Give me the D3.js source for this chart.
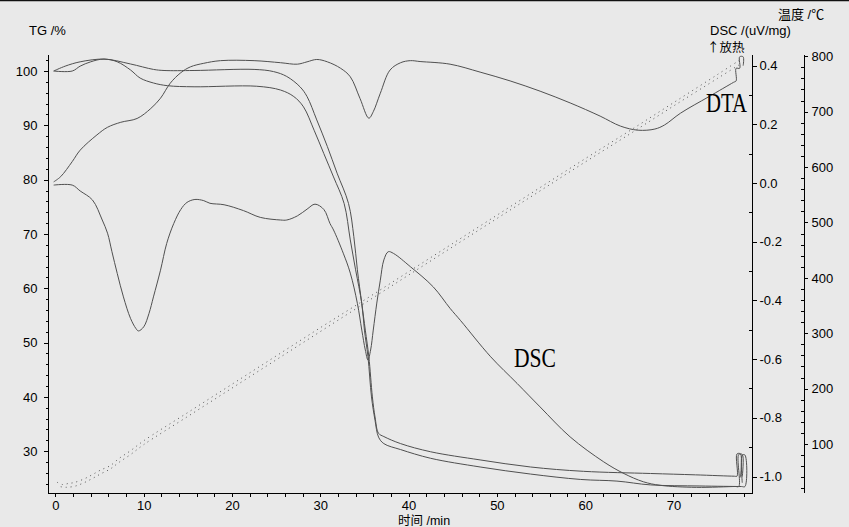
<!DOCTYPE html>
<html><head><meta charset="utf-8">
<script src="https://cdn.jsdelivr.net/npm/d3@7"></script>
<style>html,body{margin:0;padding:0;background:#e9e9e9;overflow:hidden}</style>
</head><body><svg id="c" width="849" height="527"></svg>
<script>
// ---- tick labels ----
const timeTicks = [0, 10, 20, 30, 40, 50, 60, 70];
const tgTicks = [30, 40, 50, 60, 70, 80, 90, 100];
const dscTicks = [-1.0, -0.8, -0.6, -0.4, -0.2, 0.0, 0.2, 0.4];
const dscMinorTicks = [-0.9, -0.7, -0.5, -0.3, -0.1, 0.1, 0.3];
const tempTicks = [100, 200, 300, 400, 500, 600, 700, 800];

// ---- series: [time /min, value] ----
// TG run 1 (%), plateau ~100 %
const tgA = [[-0.2,100],[1.9,100],[2.8,100.9],[4.0,101.7],[5.5,102.2],[8.5,101.3],[11.1,100.3],[12.3,100.1],[15.7,100.1],[22.5,100.3],[24.7,99.9],[26.2,99.0],[27.7,97.1],[28.5,95.3],[29.6,91.0],[30.8,86.1],[31.9,81.2],[33.2,75.6],[33.8,69.5],[34.2,63.4],[34.7,57.2],[35.1,52.3],[35.5,47.4],[35.9,40.0],[36.2,36.3],[36.6,33.3],[37.2,32.7],[39.1,31.4],[42.5,29.9],[48.1,28.4],[53.8,27.1],[59.8,26.3],[67.4,25.9],[72.5,25.65],[76.9,25.4],[77.2,25.4],[77.2,29.5],[77.6,29.5],[77.6,25.2]];
// TG run 2 (%), plateau ~97 %
const tgB = [[-0.2,100],[1.1,100.9],[2.8,101.7],[5.5,102.2],[7.0,101.7],[8.5,100.2],[9.6,98.7],[11.1,97.8],[12.7,97.3],[15.7,97.1],[22.8,97.2],[25.5,96.5],[27.0,95.3],[28.1,93.4],[29.3,89.1],[30.4,84.8],[31.5,80.5],[32.7,75.6],[33.4,68.9],[34.0,63.4],[34.7,57.2],[35.0,52.3],[35.4,47.4],[35.8,40.0],[36.2,35.7],[36.6,32.6],[37.2,31.4],[39.1,30.3],[42.5,28.7],[48.1,27.1],[53.8,25.8],[59.5,24.8],[63.6,24.5],[67.4,23.8],[73.0,23.6],[77.7,23.5],[78.1,23.5],[78.1,29.3],[77.8,29.3],[77.8,24.2]];
// DSC (uV/mg)
const dsc = [[-0.2,-0.007],[1.9,-0.007],[2.8,-0.027],[4.2,-0.058],[5.3,-0.126],[5.9,-0.171],[6.4,-0.234],[7.0,-0.308],[7.7,-0.388],[8.5,-0.461],[9.1,-0.495],[9.4,-0.504],[10.0,-0.490],[10.6,-0.444],[11.1,-0.388],[11.9,-0.297],[12.6,-0.206],[13.4,-0.138],[14.2,-0.090],[14.9,-0.066],[15.8,-0.056],[16.8,-0.060],[17.5,-0.069],[19.1,-0.074],[21.3,-0.094],[23.2,-0.117],[25.5,-0.126],[26.2,-0.126],[27.4,-0.112],[28.5,-0.089],[29.4,-0.072],[30.4,-0.090],[31.1,-0.138],[31.5,-0.160],[32.6,-0.239],[33.4,-0.307],[34.2,-0.410],[34.7,-0.501],[35.1,-0.569],[35.4,-0.603],[35.7,-0.569],[36.0,-0.501],[36.4,-0.409],[36.8,-0.331],[37.2,-0.262],[37.7,-0.234],[38.3,-0.240],[40.2,-0.285],[42.8,-0.354],[44.7,-0.427],[45.9,-0.469],[49.3,-0.592],[52.3,-0.683],[54.9,-0.763],[58.3,-0.865],[62.1,-0.950],[64.4,-0.990],[66.6,-1.018],[68.5,-1.030],[72.6,-1.037],[77.0,-1.034],[77.4,-1.034],[77.4,-0.925],[77.8,-0.925],[77.8,-1.0]];
// DTA (uV/mg scale)
const dta = [[-0.2,0.004],[0.6,0.022],[1.9,0.073],[2.8,0.112],[4.7,0.164],[5.9,0.190],[7.4,0.207],[9.25,0.220],[10.8,0.254],[11.9,0.289],[13.0,0.340],[14.2,0.376],[15.3,0.396],[16.8,0.408],[18.7,0.417],[22.5,0.417],[25.5,0.410],[27.4,0.405],[28.5,0.413],[29.6,0.421],[30.8,0.413],[32.3,0.391],[33.4,0.362],[34.5,0.288],[35.5,0.221],[36.0,0.243],[36.8,0.306],[37.9,0.385],[39.1,0.410],[40.2,0.417],[41.3,0.414],[44.7,0.405],[48.1,0.378],[51.5,0.348],[54.9,0.313],[58.3,0.273],[61.7,0.228],[64.0,0.194],[66.0,0.180],[67.9,0.184],[69.0,0.198],[70.8,0.238],[74.0,0.294],[76.8,0.343],[77.1,0.348],[77.1,0.391],[77.5,0.391],[77.5,0.43],[77.9,0.43],[77.9,0.40]];
// Temperature (°C), two runs
const temp1 = [[0.2,31],[0.8,27],[1.5,29],[2.1,30.5],[3.2,36.8],[4.2,45],[5.1,53],[6.2,61],[7.2,74],[8.5,88],[10,106],[15,157],[20,208],[25,259],[30,310],[35,360],[40,411],[45,462],[50,513],[55,564],[60,615],[65,665],[70,716],[75,767],[77.6,794]];
const temp2 = [[0.6,23],[1.2,22],[2.2,24],[3.2,30],[4.2,38],[5.1,46],[6.2,55],[7.2,67],[8.5,81],[10,99],[15,150],[20,201],[25,252],[30,303],[35,354],[40,405],[45,456],[50,507],[55,558],[60,609],[65,659],[70,710],[75,760],[77.4,784]];

const svg = d3.select("#c");
const FONT = "'Liberation Sans', Arial, sans-serif";
const CJK = "'Liberation Sans', 'Noto Sans CJK SC', sans-serif";

svg.append("rect").attr("width", 849).attr("height", 527).attr("fill", "#e9e9e9");
svg.append("line").attr("x1", 0).attr("x2", 849).attr("y1", 0.5).attr("y2", 0.5).attr("stroke", "#111").attr("stroke-width", 1.5);

const x = d3.scaleLinear().domain([-0.9, 78.9]).range([47.5, 752]);
const yTG = d3.scaleLinear().domain([22.4, 103.1]).range([492.5, 54.2]);
const yDSC = d3.scaleLinear().domain([-1.0545, 0.439]).range([492.5, 54.2]);
const yT = d3.scaleLinear().domain([12.6, 803.6]).range([492.5, 54.2]);

function styleAxis(g) {
  g.attr("font-size", 13).attr("font-family", FONT);
  g.selectAll("path,line").attr("stroke", "#000").attr("shape-rendering", "crispEdges");
  g.selectAll("text").attr("fill", "#000");
}

// Left TG axis
const tgMinor = [];
for (let v = 24; v <= 102; v += 2) if (v % 10 !== 0) tgMinor.push(v);
svg.append("g").attr("transform", "translate(47.5,0)")
  .call(d3.axisLeft(yTG).tickValues(tgMinor).tickSize(2).tickSizeOuter(0).tickFormat(""))
  .call(styleAxis);
svg.append("g").attr("transform", "translate(47.5,0)")
  .call(d3.axisLeft(yTG).tickValues(tgTicks).tickSize(4).tickSizeOuter(0).tickPadding(6))
  .call(styleAxis);

// Bottom time axis
const timeMinor = [];
for (let v = 2; v <= 78; v += 2) if (v % 10 !== 0) timeMinor.push(v);
svg.append("g").attr("transform", "translate(0,492.5)")
  .call(d3.axisBottom(x).tickValues(timeMinor).tickSize(4).tickSizeOuter(0).tickFormat(""))
  .call(styleAxis);
svg.append("g").attr("transform", "translate(0,492.5)")
  .call(d3.axisBottom(x).tickValues(timeTicks).tickSize(4).tickSizeOuter(0).tickPadding(4))
  .call(styleAxis);

// DSC axis (right of plot)
svg.append("g").attr("transform", "translate(751.5,0)")
  .call(d3.axisLeft(yDSC).tickValues(dscMinorTicks).tickSize(3).tickSizeOuter(0).tickFormat(""))
  .call(styleAxis);
svg.append("g").attr("transform", "translate(751.5,0)")
  .call(d3.axisRight(yDSC).tickValues(dscTicks).tickSize(5).tickSizeOuter(0).tickPadding(3)
    .tickFormat(v => v.toFixed(1)))
  .call(styleAxis);

// Temperature axis
const tempMinor = [];
for (let v = 20; v <= 800; v += 20) if (v % 100 !== 0) tempMinor.push(v);
svg.append("g").attr("transform", "translate(803.5,0)")
  .call(d3.axisLeft(yT).tickValues(tempMinor).tickSize(3).tickSizeOuter(0).tickFormat(""))
  .call(styleAxis);
svg.append("g").attr("transform", "translate(803.5,0)")
  .call(d3.axisRight(yT).tickValues(tempTicks).tickSize(4).tickSizeOuter(0).tickPadding(4))
  .call(styleAxis);

// Curves
const cv = d3.curveCatmullRom.alpha(0.5);
const lineTG = d3.line().curve(cv).x(d => x(d[0])).y(d => yTG(d[1]));
const lineDSC = d3.line().curve(cv).x(d => x(d[0])).y(d => yDSC(d[1]));
const lineT = d3.line().curve(cv).x(d => x(d[0])).y(d => yT(d[1]));
const curveColor = "#505050";

[temp1, temp2].forEach(s => svg.append("path").datum(s).attr("d", lineT)
  .attr("fill", "none").attr("stroke", "#555").attr("stroke-width", 1).attr("stroke-dasharray", "1,4"));
[tgA, tgB].forEach(s => svg.append("path").datum(s).attr("d", lineTG)
  .attr("fill", "none").attr("stroke", curveColor).attr("stroke-width", 1));
[dsc, dta].forEach(s => svg.append("path").datum(s).attr("d", lineDSC)
  .attr("fill", "none").attr("stroke", curveColor).attr("stroke-width", 1));

// Texts
function txt(t, px, py, opts = {}) {
  return svg.append("text").attr("x", px).attr("y", py).text(t)
    .attr("font-family", opts.family || FONT).attr("font-size", opts.size || 13)
    .attr("fill", "#000").attr("text-anchor", opts.anchor || "start");
}
txt("TG /%", 29, 35);
txt("DSC /(uV/mg)", 710, 35);
txt("↑放热", 707, 52, {family: "'Noto Sans CJK SC', sans-serif", size: 12.5});
txt("温度 /℃", 778, 19, {family: CJK});
txt("时间 /min", 398, 525, {family: CJK, size: 12.5});
txt("DTA", 706, 111.5, {family: "'Liberation Serif', 'Times New Roman', serif", size: 27})
  .attr("textLength", 41).attr("lengthAdjust", "spacingAndGlyphs");
txt("DSC", 514, 366.5, {family: "'Liberation Serif', 'Times New Roman', serif", size: 28})
  .attr("textLength", 42).attr("lengthAdjust", "spacingAndGlyphs");
</script></body></html>
